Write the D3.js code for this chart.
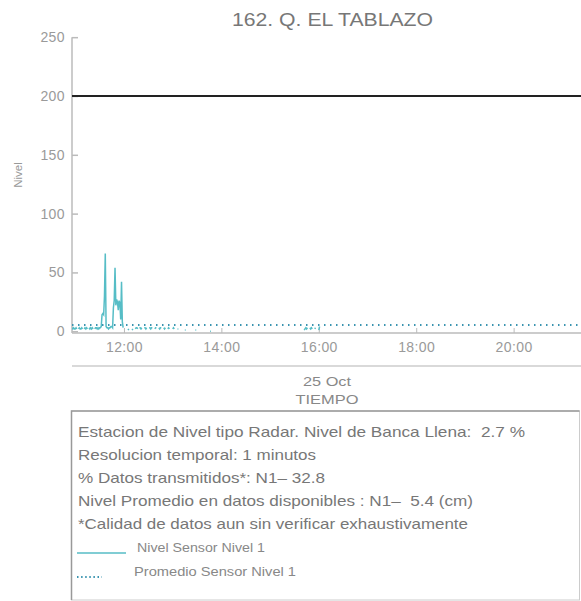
<!DOCTYPE html>
<html lang="es">
	<head>
		<meta charset="utf-8">
		<title>162. Q. EL TABLAZO</title>
		<script src="https://d3js.org/d3.v7.min.js"></script>
		<style type="text/css">
			body{margin:0;background:#fff;}
			svg{font-family:"Liberation Sans", Arial, sans-serif;}
			svg text{white-space:pre;}
			.axis path, .axis line{stroke:#bbb;}
			.axis text{fill:#9a9a9a;font-size:14px;letter-spacing:0.4px;}
		</style>
	</head>
	<body>
		<script type="text/javascript">

			// readings, 1 min resolution, null = gap (no transmission)
			var times = [
				"10:56","10:57","10:58","10:59","11:00","11:01","11:02","11:03","11:04","11:05",
				"11:06","11:07","11:08","11:09","11:10","11:11","11:12","11:13","11:14","11:15",
				"11:16","11:17","11:18","11:19","11:20","11:21","11:22","11:23","11:24","11:25",
				"11:26","11:27","11:28","11:29","11:30","11:31","11:32","11:33","11:34","11:35",
				"11:36","11:37","11:38","11:39","11:40","11:41","11:42","11:43","11:44","11:45",
				"11:46","11:47","11:48","11:49","11:50","11:51","11:52","11:53","11:54","11:55",
				"11:56","11:57","11:58","11:59","12:00","12:02","12:03","12:05","12:06","12:07",
				"12:10","12:11","12:12","12:14","12:15","12:16","12:17","12:18","12:19","12:20",
				"12:21","12:22","12:23","12:25","12:26","12:27","12:28","12:29","12:31","12:32",
				"12:33","12:34","12:35","12:36","12:38","12:39","12:40","12:41","12:43","12:44",
				"12:45","12:46","12:47","12:49","12:50","12:51","12:52","12:54","12:55","12:56",
				"12:57","13:00","13:01","13:02","13:03","13:06","13:07","13:08","13:15","13:16",
				"13:17","13:28","13:29","13:30","13:46","13:47","13:48","15:42","15:43","15:44",
				"15:45","15:46","15:47","15:49","15:50","15:51","15:52","15:53","15:55","15:56",
				"15:57","16:00","16:01","16:02"
			];
			var levels = [
				3,2,3,2,2,3,2,null,2,3,
				2,2,3,2,null,2,3,2,3,2,
				null,3,2,3,2,3,2,null,2,3,
				3,2,3,2,3,3,4,14,15,14,
				30,66,4,3,3,2,3,3,4,4,
				3,20,26,54,22,27,25,18,26,24,
				10,42,8,3,null,1,null,2,1,null,
				1,2,null,2,3,3,2,null,3,3,
				2,3,null,3,3,2,3,null,3,3,
				2,3,3,null,2,3,3,null,3,2,
				3,3,null,3,2,3,null,2,3,2,
				null,2,3,2,null,2,2,null,1,1,
				null,1,1,null,0,0,null,1,2,3,
				2,3,null,3,2,3,2,null,2,3,
				null,1,4,null
			];

			var promedio = 5.4;
			var bancaLlena = 200;
			var yTicks = [0, 50, 100, 150, 200, 250];
			var xTicks = ["12:00","14:00","16:00","18:00","20:00"];
			var domainStart = "10:56", domainEnd = "21:23";

			var infoLines = [
				"Estacion de Nivel tipo Radar. Nivel de Banca Llena:  2.7 %",
				"Resolucion temporal: 1 minutos",
				"% Datos transmitidos*: N1\u2013 32.8",
				"Nivel Promedio en datos disponibles : N1\u2013  5.4 (cm)",
				"*Calidad de datos aun sin verificar exhaustivamente"
			];
			var legendItems = ["Nivel Sensor Nivel 1", "Promedio Sensor Nivel 1"];

			// rendered text widths in the original
			var infoWidths = [447, 238, 247, 395, 390];
			var legendWidths = [128, 162];

			var lineColor = "#56bdc6", avgColor = "#3a94b0";

			var W = 581, H = 601;
			var margin = {top: 36, right: 0, bottom: 268, left: 72},
				width = W - margin.left - margin.right,
				height = H - margin.top - margin.bottom;

			var parse = d3.timeParse("%Y-%m-%d %H:%M");
			function t(s){ return parse("2023-10-25 " + s); }

			var data = times.map(function(s, i){ return {time: t(s), value: levels[i]}; });

			var svg = d3.select("body").append("svg")
				.attr("width", W)
				.attr("height", H);

			var g = svg.append("g")
				.attr("transform", "translate(" + margin.left + "," + margin.top + ")");

			var x = d3.scaleTime()
				.domain([t(domainStart), t(domainEnd)])
				.range([0, width]);

			var y = d3.scaleLinear()
				.domain([-1.5, 251])
				.range([height, 0]);

			g.append("defs").append("clipPath").attr("id", "clip")
				.append("rect").attr("width", width).attr("height", height);

			// title
			svg.append("text")
				.attr("x", 232).attr("y", 26)
				.attr("fill", "#777")
				.attr("textLength", 201)
				.attr("lengthAdjust", "spacingAndGlyphs")
				.style("font-size", "17.5px")
				.text("162. Q. EL TABLAZO");

			// y axis
			var yAxis = g.append("g").attr("class", "axis")
				.call(d3.axisLeft(y).tickValues(yTicks).tickSize(-6).tickPadding(7));
			yAxis.select(".domain").attr("stroke-width", 1.5).attr("d", "M0," + y(250) + "V" + height);
			yAxis.selectAll(".tick line").attr("stroke-width", 1.5);

			// x axis
			var xAxis = g.append("g").attr("class", "axis")
				.attr("transform", "translate(0," + height + ")")
				.call(d3.axisBottom(x).tickValues(xTicks.map(t)).tickFormat(d3.timeFormat("%H:%M")).tickSize(-5).tickPadding(9));
			xAxis.select(".domain").attr("stroke-width", 1.5).attr("d", "M0,0H" + width);

			// y label
			svg.append("text")
				.attr("transform", "translate(22,175) rotate(-90)")
				.attr("text-anchor", "middle")
				.attr("fill", "#999")
				.style("font-size", "11.5px")
				.text("Nivel");

			var plot = g.append("g").attr("clip-path", "url(#clip)");

			// banca llena
			plot.append("line")
				.attr("x1", 0).attr("x2", width)
				.attr("y1", y(bancaLlena)).attr("y2", y(bancaLlena))
				.attr("stroke", "#222").attr("stroke-width", 2);

			// sensor level
			var line = d3.line()
				.defined(function(d){ return d.value !== null; })
				.x(function(d){ return x(d.time); })
				.y(function(d){ return y(d.value); });

			plot.append("path")
				.datum(data)
				.attr("fill", "none")
				.attr("stroke", lineColor)
				.attr("stroke-width", 1.5)
				.attr("d", line);

			// average
			plot.append("line")
				.attr("x1", 0).attr("x2", width)
				.attr("y1", y(promedio)).attr("y2", y(promedio))
				.attr("stroke", avgColor).attr("stroke-width", 2)
				.attr("stroke-dasharray", "1.5,4.5");

			// date / axis title block
			svg.append("line")
				.attr("x1", margin.left).attr("x2", W)
				.attr("y1", 366).attr("y2", 366)
				.attr("stroke", "#ccc").attr("stroke-width", 1.5);
			svg.append("text")
				.attr("x", 327).attr("y", 386)
				.attr("text-anchor", "middle").attr("fill", "#888")
				.attr("textLength", 48).attr("lengthAdjust", "spacingAndGlyphs")
				.style("font-size", "13.5px").text("25 Oct");
			svg.append("text")
				.attr("x", 327).attr("y", 404)
				.attr("text-anchor", "middle").attr("fill", "#888")
				.attr("textLength", 63).attr("lengthAdjust", "spacingAndGlyphs")
				.style("font-size", "13.5px").text("TIEMPO");

			// info box
			svg.append("rect")
				.attr("x", 71.5).attr("y", 411)
				.attr("width", 508).attr("height", 189)
				.attr("fill", "none").attr("stroke", "#ccc").attr("stroke-width", 1);
			svg.append("path")
				.attr("d", "M71.5,600V411H579.5")
				.attr("fill", "none").attr("stroke", "#999").attr("stroke-width", 1.5);

			svg.append("g").selectAll("text")
				.data(infoLines)
				.enter().append("text")
				.attr("x", 78)
				.attr("y", function(d, i){ return 437 + i * 22.9; })
				.attr("fill", "#777")
				.attr("textLength", function(d, i){ return infoWidths[i]; })
				.attr("lengthAdjust", "spacingAndGlyphs")
				.style("font-size", "15px")
				.text(function(d){ return d; });

			var leg = svg.append("g").selectAll("g")
				.data(legendItems)
				.enter().append("g")
				.attr("transform", function(d, i){ return "translate(77," + (553 + i * 24) + ")"; });
			leg.append("line")
				.attr("x1", 0).attr("x2", function(d, i){ return i ? 25 : 49; })
				.attr("stroke", function(d, i){ return i ? avgColor : lineColor; })
				.attr("stroke-width", function(d, i){ return i ? 2 : 1.5; })
				.attr("stroke-dasharray", function(d, i){ return i ? "1.5,2.6" : null; });
			leg.append("text")
				.attr("x", function(d, i){ return i ? 57 : 60; }).attr("y", -1.5)
				.attr("fill", "#888")
				.attr("textLength", function(d, i){ return legendWidths[i]; })
				.attr("lengthAdjust", "spacingAndGlyphs")
				.style("font-size", "12px")
				.text(function(d){ return d; });

		</script>
	</body>
</html>
